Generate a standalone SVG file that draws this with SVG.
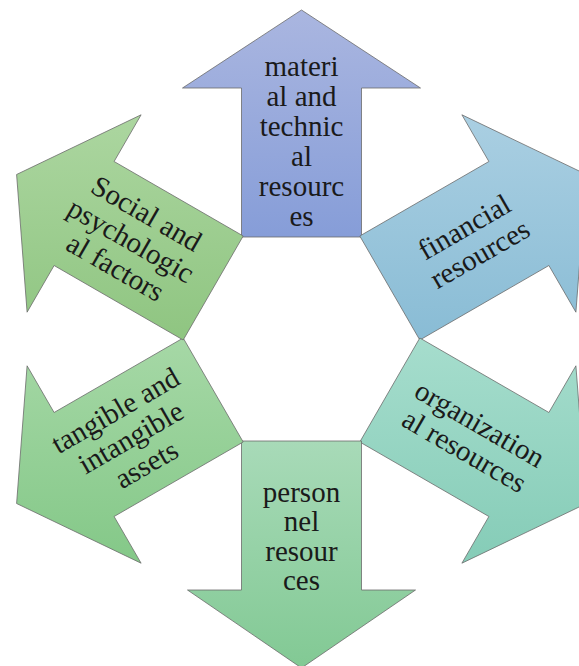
<svg xmlns="http://www.w3.org/2000/svg" width="579" height="666" viewBox="0 0 579 666">
  <defs>
    <linearGradient id="gTop" x1="0" y1="0" x2="0" y2="1">
      <stop offset="0" stop-color="#aab6e0"/>
      <stop offset="1" stop-color="#869dd8"/>
    </linearGradient>
    <linearGradient id="gUR" x1="0" y1="0" x2="0" y2="1">
      <stop offset="0" stop-color="#aacfe2"/>
      <stop offset="1" stop-color="#89bcd5"/>
    </linearGradient>
    <linearGradient id="gLR" x1="0" y1="0" x2="0" y2="1">
      <stop offset="0" stop-color="#a6ddcd"/>
      <stop offset="1" stop-color="#85ccb7"/>
    </linearGradient>
    <linearGradient id="gBot" x1="0" y1="0" x2="0" y2="1">
      <stop offset="0" stop-color="#a8dab8"/>
      <stop offset="1" stop-color="#82c994"/>
    </linearGradient>
    <linearGradient id="gLL" x1="0" y1="0" x2="0" y2="1">
      <stop offset="0" stop-color="#a6d8a6"/>
      <stop offset="1" stop-color="#84c888"/>
    </linearGradient>
    <linearGradient id="gUL" x1="0" y1="0" x2="0" y2="1">
      <stop offset="0" stop-color="#acd6a0"/>
      <stop offset="1" stop-color="#8fc581"/>
    </linearGradient>
  </defs>
  <style>
    .arrow { stroke: #6b6b6b; stroke-width: 0.8; stroke-linejoin: miter; }
    .lbl { font-family: "Liberation Serif", "Times New Roman", serif; font-size: 29px; fill: #1a1a1a; text-anchor: middle; }
  </style>
  <rect width="579" height="666" fill="#ffffff"/>

  <!-- upward arrow -->
  <g id="material-technical">
    <polygon class="arrow" fill="url(#gTop)" points="241.5,237 241.5,88 182.5,88 301.5,10 420.5,88 361.5,88 361.5,237"/>
    <text class="lbl" x="301.5" y="76">materi</text>
    <text class="lbl" x="301.5" y="106">al and</text>
    <text class="lbl" x="301.5" y="136">technic</text>
    <text class="lbl" x="301.5" y="166">al</text>
    <text class="lbl" x="301.5" y="196">resourc</text>
    <text class="lbl" x="301.5" y="226">es</text>
  </g>

  <!-- upper-right arrow -->
  <g id="financial">
    <polygon class="arrow" fill="url(#gUR)" points="359.8,236 488.9,161.5 461.9,114.8 586.4,174.5 575.9,312.2 548.9,265.5 419.8,340"/>
    <g transform="translate(472.1,240.5) rotate(-30)">
      <text class="lbl" x="0" y="-5.9">financial</text>
      <text class="lbl" x="0" y="25.1">resources</text>
    </g>
  </g>

  <!-- lower-right arrow -->
  <g id="organizational">
    <polygon class="arrow" fill="url(#gLR)" points="419.8,338 548.9,412.5 575.9,365.8 586.4,503.5 461.9,563.2 488.9,516.5 359.8,442"/>
    <g transform="translate(472.1,437.5) rotate(30)">
      <text class="lbl" x="0" y="-5.9">organization</text>
      <text class="lbl" x="0" y="25.1">al resources</text>
    </g>
  </g>

  <!-- downward arrow -->
  <g id="personnel">
    <polygon class="arrow" fill="url(#gBot)" points="361.5,441 361.5,590 415.5,590 301.5,668 187.5,590 241.5,590 241.5,441"/>
    <text class="lbl" x="301.5" y="501.5">person</text>
    <text class="lbl" x="301.5" y="531">nel</text>
    <text class="lbl" x="301.5" y="560.5">resour</text>
    <text class="lbl" x="301.5" y="590">ces</text>
  </g>

  <!-- lower-left arrow -->
  <g id="assets">
    <polygon class="arrow" fill="url(#gLL)" points="243.2,442 114.1,516.5 141.1,563.2 16.6,503.5 27.1,365.8 54.1,412.5 183.2,338"/>
    <g transform="translate(130.9,437.5) rotate(-30)">
      <text class="lbl" x="0" y="-21.4">tangible and</text>
      <text class="lbl" x="0" y="9.6">intangible</text>
      <text class="lbl" x="0" y="40.6">assets</text>
    </g>
  </g>

  <!-- upper-left arrow -->
  <g id="social-psychological">
    <polygon class="arrow" fill="url(#gUL)" points="183.2,340 54.1,265.5 27.1,312.2 16.6,174.5 141.1,114.8 114.1,161.5 243.2,236"/>
    <g transform="translate(130.9,240.5) rotate(30)">
      <text class="lbl" x="0" y="-21.4">Social and</text>
      <text class="lbl" x="0" y="9.6">psychologic</text>
      <text class="lbl" x="0" y="40.6">al factors</text>
    </g>
  </g>
</svg>
